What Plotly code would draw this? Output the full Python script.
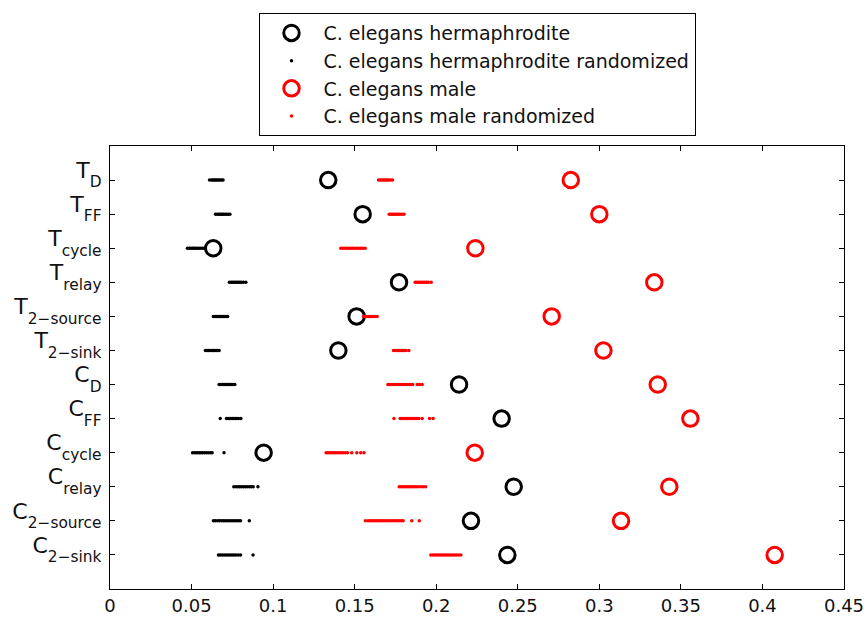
import plotly.graph_objects as go

# ---------------- data ----------------
SUB = '<sub><span style="baseline-shift:-0.35em">{}</span></sub>'
categories = ["T" + SUB.format("D"), "T" + SUB.format("FF"), "T" + SUB.format("cycle"),
              "T" + SUB.format("relay"), "T" + SUB.format("2\u2212source"), "T" + SUB.format("2\u2212sink"),
              "C" + SUB.format("D"), "C" + SUB.format("FF"), "C" + SUB.format("cycle"),
              "C" + SUB.format("relay"), "C" + SUB.format("2\u2212source"), "C" + SUB.format("2\u2212sink")]

herm = [0.1338, 0.1549, 0.0633, 0.1772, 0.1512, 0.1400,
        0.2140, 0.2401, 0.0942, 0.2475, 0.2213, 0.2436]

male = [0.2825, 0.3000, 0.2240, 0.3337, 0.2708, 0.3025,
        0.3358, 0.3558, 0.2236, 0.3429, 0.3133, 0.4075]

herm_rand = [
    [0.0610, 0.0622, 0.0630, 0.0638, 0.0645, 0.0652, 0.0660, 0.0668, 0.0676, 0.0685, 0.0693],
    [0.0647, 0.0658, 0.0666, 0.0674, 0.0682, 0.0690, 0.0698, 0.0707, 0.0716, 0.0726, 0.0735],
    [0.0475, 0.0487, 0.0496, 0.0505, 0.0514, 0.0523, 0.0532, 0.0542, 0.0553, 0.0565, 0.0575],
    [0.0732, 0.0743, 0.0752, 0.0761, 0.0770, 0.0779, 0.0788, 0.0797, 0.0806, 0.0818, 0.0833],
    [0.0634, 0.0645, 0.0653, 0.0661, 0.0669, 0.0677, 0.0685, 0.0694, 0.0703, 0.0712, 0.0721],
    [0.0585, 0.0595, 0.0603, 0.0611, 0.0619, 0.0627, 0.0635, 0.0643, 0.0651, 0.0660, 0.0669],
    [0.0669, 0.0680, 0.0689, 0.0698, 0.0707, 0.0716, 0.0725, 0.0734, 0.0743, 0.0753, 0.0765],
    [0.0676, 0.0714, 0.0724, 0.0733, 0.0742, 0.0751, 0.0760, 0.0769, 0.0778, 0.0788, 0.0802],
    [0.0506, 0.0518, 0.0528, 0.0538, 0.0548, 0.0558, 0.0568, 0.0580, 0.0592, 0.0604, 0.0616, 0.0626, 0.0699],
    [0.0759, 0.0772, 0.0784, 0.0795, 0.0806, 0.0818, 0.0830, 0.0842, 0.0855, 0.0866, 0.0878, 0.0907],
    [0.0634, 0.0646, 0.0660, 0.0672, 0.0684, 0.0695, 0.0706, 0.0718, 0.0730, 0.0742, 0.0754, 0.0766,
     0.0778, 0.0790, 0.0800, 0.0854],
    [0.0665, 0.0676, 0.0688, 0.0700, 0.0712, 0.0724, 0.0736, 0.0748, 0.0760, 0.0772, 0.0786, 0.0800, 0.0877],
]

male_rand = [
    [0.1646, 0.1656, 0.1665, 0.1674, 0.1683, 0.1692, 0.1701, 0.1710, 0.1720, 0.1732],
    [0.1712, 0.1722, 0.1731, 0.1740, 0.1749, 0.1758, 0.1768, 0.1778, 0.1790, 0.1802],
    [0.1415, 0.1428, 0.1440, 0.1452, 0.1464, 0.1476, 0.1488, 0.1500, 0.1512, 0.1524, 0.1537, 0.1550, 0.1564],
    [0.1871, 0.1882, 0.1892, 0.1902, 0.1912, 0.1922, 0.1932, 0.1942, 0.1952, 0.1969],
    [0.1554, 0.1564, 0.1574, 0.1584, 0.1594, 0.1604, 0.1614, 0.1625, 0.1638],
    [0.1738, 0.1748, 0.1757, 0.1766, 0.1775, 0.1784, 0.1793, 0.1803, 0.1814, 0.1832],
    [0.1704, 0.1716, 0.1728, 0.1740, 0.1752, 0.1764, 0.1776, 0.1788, 0.1800, 0.1812, 0.1824, 0.1836,
     0.1848, 0.1856, 0.1884, 0.1898, 0.1914],
    [0.1741, 0.1779, 0.1790, 0.1801, 0.1812, 0.1823, 0.1834, 0.1845, 0.1856, 0.1868, 0.1880, 0.1893,
     0.1914, 0.1959, 0.1981],
    [0.1325, 0.1336, 0.1347, 0.1358, 0.1369, 0.1380, 0.1392, 0.1404, 0.1416, 0.1428, 0.1442, 0.1456,
     0.1482, 0.1513, 0.1537, 0.1557],
    [0.1773, 0.1785, 0.1796, 0.1807, 0.1818, 0.1829, 0.1840, 0.1852, 0.1864, 0.1876, 0.1890, 0.1906,
     0.1921, 0.1935],
    [0.1566, 0.1582, 0.1594, 0.1606, 0.1618, 0.1630, 0.1642, 0.1654, 0.1666, 0.1678, 0.1690, 0.1702,
     0.1714, 0.1726, 0.1738, 0.1750, 0.1762, 0.1774, 0.1786, 0.1797, 0.1850, 0.1896],
    [0.1967, 0.1980, 0.1992, 0.2004, 0.2016, 0.2028, 0.2040, 0.2052, 0.2064, 0.2076, 0.2088, 0.2100,
     0.2112, 0.2124, 0.2138, 0.2151],
]

x_ticks = [0, 0.05, 0.1, 0.15, 0.2, 0.25, 0.3, 0.35, 0.4, 0.45]
x_tick_labels = ["0", "0.05", "0.1", "0.15", "0.2", "0.25", "0.3", "0.35", "0.4", "0.45"]

series_names = ["C. elegans hermaphrodite", "C. elegans hermaphrodite randomized",
                "C. elegans male", "C. elegans male randomized"]


def flatten(groups):
    xs, ys = [], []
    for cat, vals in zip(categories, groups):
        for v in vals:
            xs.append(v)
            ys.append(cat)
    return xs, ys


FONT = "DejaVu Sans, Liberation Sans, Arial, sans-serif"

fig = go.Figure()

hx, hy = flatten(herm_rand)
mx, my = flatten(male_rand)

fig.add_trace(go.Scatter(
    x=herm, y=categories, mode="markers", name=series_names[0],
    marker=dict(symbol="circle-open", size=15.5, color="black", line=dict(width=3, color="black"))))
fig.add_trace(go.Scatter(
    x=hx, y=hy, mode="markers", name=series_names[1],
    marker=dict(symbol="circle", size=3.5, color="black", line=dict(width=0))))
fig.add_trace(go.Scatter(
    x=male, y=categories, mode="markers", name=series_names[2],
    marker=dict(symbol="circle-open", size=15.5, color="#ff0000", line=dict(width=3, color="#ff0000"))))
fig.add_trace(go.Scatter(
    x=mx, y=my, mode="markers", name=series_names[3],
    marker=dict(symbol="circle", size=3.5, color="#ff0000", line=dict(width=0))))

fig.update_layout(
    width=867, height=617,
    margin=dict(l=110, r=23, t=146, b=28, autoexpand=False),
    paper_bgcolor="white", plot_bgcolor="white",
    font=dict(family=FONT, size=19, color="black"),
    showlegend=True,
    legend=dict(
        x=0.5, y=1.30, xanchor="center", yanchor="top",
        bgcolor="white", bordercolor="black", borderwidth=1,
        font=dict(family=FONT, size=19, color="#111111"),
        itemwidth=54, tracegroupgap=0,
    ),
    xaxis=dict(
        range=[0, 0.45], tickvals=x_ticks, ticktext=x_tick_labels,
        showgrid=False, zeroline=False, automargin=False,
        showline=True, linecolor="black", linewidth=1.2, mirror="allticks",
        ticks="inside", ticklen=5, tickcolor="black", tickwidth=1,
        tickfont=dict(family=FONT, size=18, color="#111111"),
    ),
    yaxis=dict(
        type="category", categoryorder="array", categoryarray=categories,
        range=[12, -1], automargin=False,
        showgrid=False, zeroline=False,
        showline=True, linecolor="black", linewidth=1.2, mirror="allticks",
        ticks="inside", ticklen=5, tickcolor="black", tickwidth=1,
        ticklabelshift=10, ticklabelstandoff=3,
        tickfont=dict(family=FONT, size=22, color="#111111"),
    ),
)

fig.write_html(
    "out.html",
    config={"displayModeBar": False},
    post_script="document.body.style.margin='0';document.body.style.overflow='hidden';",
)
